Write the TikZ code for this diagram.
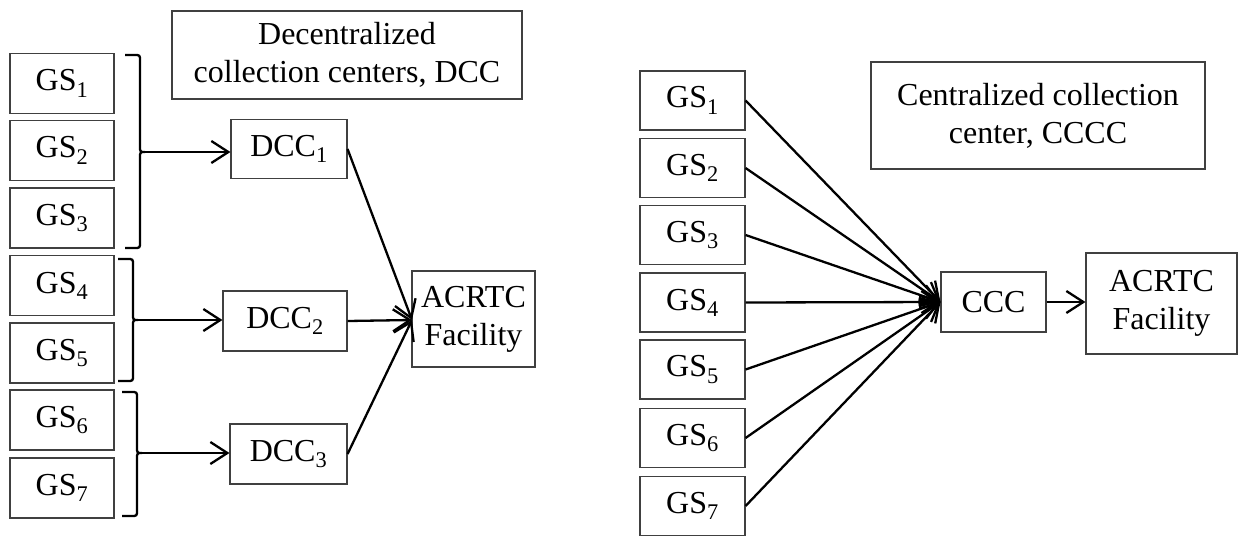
\documentclass[tikz,border=0pt]{standalone}
\usepackage{fontspec}
\setmainfont{Liberation Serif}
\usetikzlibrary{arrows.meta}
\begin{document}
\begin{tikzpicture}[x=1pt,y=-1pt,
  box/.style={draw=black!75,line width=1.1pt,inner sep=0pt,align=center,font=\fontsize{32}{38}\selectfont},
  conn/.style={line width=2.3pt,-{Straight Barb[length=17pt,width=22pt,line width=2.3pt]}},
  brc/.style={line width=2.3pt}]
\useasboundingbox (0,0) rectangle (1238,535);
% ---------- left panel ----------
\node[box,minimum width=350pt,minimum height=88pt] (tl) at (347,55) {Decentralized\\collection centers, DCC};
\foreach \i/\y in {1/83.5,2/150.5,3/218,4/285.5,5/353,6/420,7/488}
  \node[box,minimum width=104pt,minimum height=60pt] (l\i) at (62,\y) {GS\textsubscript{\i}};
\node[box,minimum width=116pt,minimum height=59pt] (d1) at (289,149) {DCC\textsubscript{1}};
\node[box,minimum width=124pt,minimum height=60pt] (d2) at (285,321) {DCC\textsubscript{2}};
\node[box,minimum width=117pt,minimum height=60pt] (d3) at (288.5,454) {DCC\textsubscript{3}};
\node[box,minimum width=123pt,minimum height=96pt] (al) at (473.5,319) {ACRTC\\Facility};
% braces
\draw[brc] (125,55) -- (134,55) .. controls (140,55) .. (140,61) -- (140,146) .. controls (140,152) .. (145,152) .. controls (140,152) .. (140,158) -- (140,242) .. controls (140,248) .. (134,248) -- (125,248);
\coordinate (b1) at (145,152);
\draw[brc] (118,259) -- (127,259) .. controls (133,259) .. (133,265) -- (133,314) .. controls (133,320) .. (138,320) .. controls (133,320) .. (133,326) -- (133,375) .. controls (133,381) .. (127,381) -- (118,381);
\coordinate (b2) at (138,320);
\draw[brc] (122,392) -- (131,392) .. controls (137,392) .. (137,398) -- (137,447) .. controls (137,453) .. (142,453) .. controls (137,453) .. (137,459) -- (137,510) .. controls (137,516) .. (131,516) -- (122,516);
\coordinate (b3) at (142,453);
\draw[conn] (b1) -- (b1 -| d1.west);
\draw[conn] (b2) -- (b2 -| d2.west);
\draw[conn] (b3) -- (b3 -| d3.west);
\coordinate (ain) at (412,320);
\draw[conn] (d1.east) -- (ain);
\draw[conn] (d2.east) -- (ain);
\draw[conn] (d3.east) -- (ain);
% ---------- right panel ----------
\node[box,minimum width=334pt,minimum height=107pt] (tr) at (1038,115.5) {Centralized collection\\center, CCCC};
\foreach \i/\y in {1/100.5,2/168,3/235,4/302.5,5/369.5,6/438,7/506}
  \node[box,minimum width=105pt,minimum height=59pt] (r\i) at (692.5,\y) {GS\textsubscript{\i}};
\node[box,minimum width=105pt,minimum height=60pt] (ccc) at (993.5,302) {CCC};
\node[box,minimum width=151pt,minimum height=101pt] (ar) at (1161.5,303.5) {ACRTC\\Facility};
\foreach \i in {1,...,7}
  \draw[conn] (r\i.east) -- (ccc.west);
\draw[conn] (ccc.east) -- (ar.west |- ccc.east);
\end{tikzpicture}
\end{document}
